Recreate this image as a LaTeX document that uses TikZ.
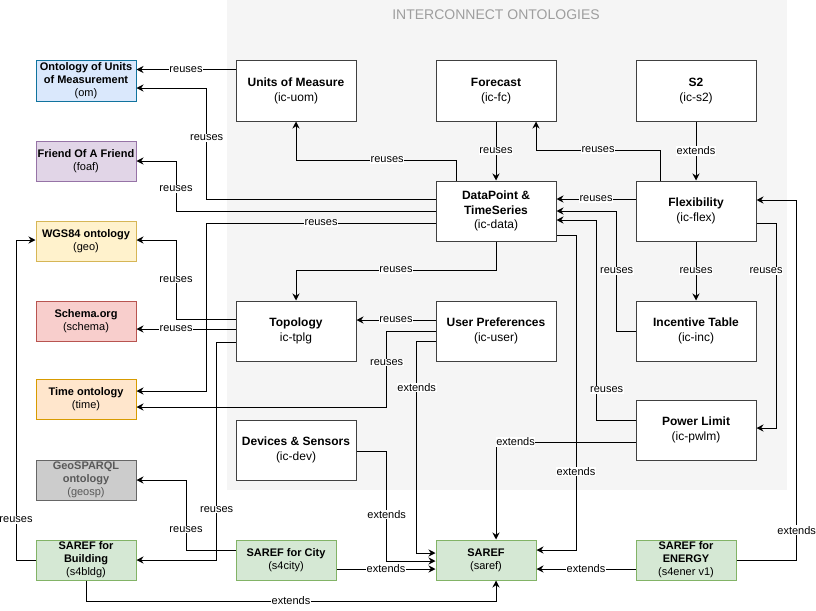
\documentclass[tikz,border=0pt]{standalone}
\usepackage{fontspec}
\setmainfont{Liberation Sans}
\usetikzlibrary{arrows.meta}
\definecolor{panelgray}{HTML}{F5F5F5}
\definecolor{titlegray}{HTML}{9E9E9E}
\definecolor{omfill}{HTML}{DAE8FC}\definecolor{omdraw}{HTML}{10739E}
\definecolor{foaffill}{HTML}{E1D5E7}\definecolor{foafdraw}{HTML}{9673A6}
\definecolor{geofill}{HTML}{FFF2CC}\definecolor{geodraw}{HTML}{D6B656}
\definecolor{schemafill}{HTML}{F8CECC}\definecolor{schemadraw}{HTML}{B85450}
\definecolor{timefill}{HTML}{FFE6CC}\definecolor{timedraw}{HTML}{D79B00}
\definecolor{geospfill}{HTML}{CCCCCC}\definecolor{geospdraw}{HTML}{666666}
\definecolor{sareffill}{HTML}{D5E8D4}\definecolor{sarefdraw}{HTML}{82B366}
\begin{document}
\begin{tikzpicture}[x=1pt, y=-1pt,
    icbox/.style={draw=black!75, fill=white, line width=1pt, minimum width=120pt, minimum height=60pt,
        inner sep=0pt, align=center, font=\fontsize{12}{14.5}\selectfont},
    extbox/.style={line width=1pt, minimum width=100pt, minimum height=40pt,
        inner sep=0pt, align=center, font=\fontsize{11}{13}\selectfont},
    saref/.style={extbox, fill=sareffill, draw=sarefdraw},
    rel/.style={line width=0.9pt, -{Stealth[length=7pt,width=7pt]}},
    lbl/.style={fill=white, inner sep=0.6pt, font=\fontsize{11}{12}\selectfont}]
    \useasboundingbox (0,0) rectangle (816,610);

    \fill[panelgray] (226.7,0) rectangle (786.7,490);
    \node[text=titlegray, font=\fontsize{14}{16}\selectfont] (title) at (496,15) {INTERCONNECT ONTOLOGIES};

    \node[icbox] (uom) at (296,91) {\textbf{Units of Measure}\\(ic-uom)};
    \node[icbox] (fc) at (496,91) {\textbf{Forecast}\\(ic-fc)};
    \node[icbox] (s2) at (696,91) {\textbf{S2}\\(ic-s2)};
    \node[icbox] (data) at (496,211) {\textbf{DataPoint \&}\\\textbf{TimeSeries}\\(ic-data)};
    \node[icbox] (flex) at (696,211) {\textbf{Flexibility}\\(ic-flex)};
    \node[icbox] (tplg) at (296,331) {\textbf{Topology}\\ic-tplg};
    \node[icbox] (user) at (496,331) {\textbf{User Preferences}\\(ic-user)};
    \node[icbox] (inc) at (696,331) {\textbf{Incentive Table}\\(ic-inc)};
    \node[icbox] (pwlm) at (696,430) {\textbf{Power Limit}\\(ic-pwlm)};
    \node[icbox] (dev) at (296,450) {\textbf{Devices \& Sensors}\\(ic-dev)};

    \node[extbox, fill=omfill, draw=omdraw] (om) at (86,81) {\textbf{Ontology of Units}\\\textbf{of Measurement}\\(om)};
    \node[extbox, fill=foaffill, draw=foafdraw] (foaf) at (86,161) {\textbf{Friend Of A Friend}\\(foaf)};
    \node[extbox, fill=geofill, draw=geodraw] (geo) at (86,241) {\textbf{WGS84 ontology}\\(geo)};
    \node[extbox, fill=schemafill, draw=schemadraw] (schema) at (86,321) {\textbf{Schema.org}\\(schema)};
    \node[extbox, fill=timefill, draw=timedraw] (time) at (86,399) {\textbf{Time ontology}\\(time)};
    \node[extbox, fill=geospfill, draw=geospdraw, text=black!65] (geosp) at (86,480) {\textbf{GeoSPARQL}\\\textbf{ontology}\\(geosp)};
    \node[saref] (s4bldg) at (86,560) {\textbf{SAREF for}\\\textbf{Building}\\(s4bldg)};
    \node[saref] (s4city) at (286,560) {\textbf{SAREF for City}\\(s4city)};
    \node[saref] (saref) at (486,560) {\textbf{SAREF}\\(saref)};
    \node[saref] (s4ener) at (686,560) {\textbf{SAREF for}\\\textbf{ENERGY}\\(s4ener v1)};

    \draw[rel] (uom.west |- 0,69.5) -- node[lbl]{reuses} (om.east |- 0,69.5);
    \draw[rel] (data.west |- 0,199) -- (206.7,199) -- node[lbl, pos=0.55]{reuses} (206.7,88) -- (om.east |- 0,88);
    \draw[rel] (data.west |- 0,211) -- (176,211) -- node[lbl, pos=0.44]{reuses} (176,161) -- (foaf.east |- 0,161);
    \draw[rel] (data.west |- 0,223) -- node[lbl]{reuses} (206.7,223) -- (206.7,391) -- (time.east |- 0,391);
    \draw[rel] (tplg.west |- 0,319) -- (176,319) -- node[lbl]{reuses} (176,240) -- (geo.east |- 0,240);
    \draw[rel] (tplg.west |- 0,329) -- node[lbl, pos=0.6]{reuses} (schema.east |- 0,329);
    \draw[rel] (tplg.west |- 0,342) -- (216.7,342) -- node[lbl, pos=0.77]{reuses} (216.7,560) -- (s4bldg.east |- 0,560);
    \draw[rel] (s4bldg.west) -- (16,560) -- node[lbl, pos=0.125]{reuses} (16,240) -- (geo.west |- 0,240);
    \draw[rel] (s4city.west |- 0,550) -- (186,550) -- node[lbl, pos=0.29]{reuses} (186,480) -- (geosp.east);
    \draw[rel] (data.south) -- (496,270) -- node[lbl]{reuses} (296,270) -- (tplg.north);
    \draw[rel] (user.west |- 0,320) -- node[lbl]{reuses} (tplg.east |- 0,320);
    \draw[rel] (user.west |- 0,331) -- (386.7,331) -- node[lbl, pos=0.41]{reuses} (386.7,407) -- (time.east |- 0,407);
    \draw[rel] (user.west |- 0,341) -- (416.7,341) -- node[lbl, pos=0.22]{extends} (416.7,553) -- (saref.west |- 0,553);
    \draw[rel] (dev.east |- 0,451) -- (386.7,451) -- node[lbl, pos=0.58]{extends} (386.7,561) -- (saref.west |- 0,561);
    \draw[rel] (s4city.east |- 0,569) -- node[lbl]{extends} (saref.west |- 0,569);
    \draw[rel] (s4bldg.south) -- (86,601) -- node[lbl]{extends} (496,601) -- (saref.south -| 496,0);
    \draw[rel] (pwlm.west |- 0,442) -- node[lbl, pos=0.86]{extends} (496,442) -- (saref.north -| 496,0);
    \draw[rel] (data.east |- 0,235) -- (576,235) -- node[lbl, pos=0.75]{extends} (576,550) -- (saref.east |- 0,550);
    \draw[rel] (s4ener.west |- 0,569) -- node[lbl]{extends} (saref.east |- 0,569);
    \draw[rel] (s4ener.east) -- (796.7,560) -- node[lbl, pos=0.083]{extends} (796.7,200) -- (flex.east |- 0,200);
    \draw[rel] (flex.east |- 0,223) -- (776,223) -- node[lbl, pos=0.234, xshift=-10pt]{reuses} (776,428) -- (pwlm.east |- 0,428);
    \draw[rel] (flex.south) -- node[lbl]{reuses} (inc.north);
    \draw[rel] (inc.west) -- (616.7,331) -- node[lbl]{reuses} (616.7,211) -- (data.east |- 0,211);
    \draw[rel] (pwlm.west |- 0,420) -- (596.7,420) -- node[lbl, pos=0.15, xshift=10pt]{reuses} (596.7,220) -- (data.east |- 0,220);
    \draw[rel] (flex.west |- 0,199) -- node[lbl]{reuses} (data.east |- 0,199);
    \draw[rel] (flex.north -| 660,0) -- (660,150) -- node[lbl]{reuses} (536,150) -- (fc.south -| 536,0);
    \draw[rel] (s2.south) -- node[lbl]{extends} (flex.north);
    \draw[rel] (fc.south) -- node[lbl]{reuses} (data.north);
    \draw[rel] (data.north -| 456,0) -- (456,160) -- node[lbl, pos=0.43]{reuses} (296,160) -- (uom.south);
\end{tikzpicture}
\end{document}
